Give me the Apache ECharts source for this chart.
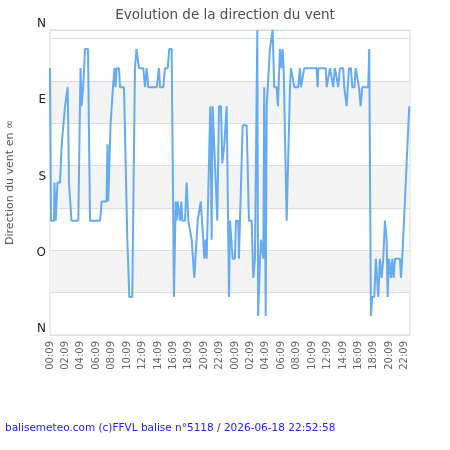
<!DOCTYPE html>
<html><head><meta charset="utf-8">
<script src="https://cdn.jsdelivr.net/npm/echarts@6/dist/echarts.min.js"></script>
<style>html,body{margin:0;padding:0;background:#fff}#c{width:450px;height:450px}</style>
</head><body><div id="c"></div>
<script>
// x tick labels: every 2 hours over two days, starting 00:09
const xTickLabels = ['00:09','02:09','04:09','06:09','08:09','10:09','12:09','14:09','16:09','18:09','20:09','22:09',
                     '00:09','02:09','04:09','06:09','08:09','10:09','12:09','14:09','16:09','18:09','20:09','22:09'];
const yTickValues = [0, 90, 180, 270, 360];
const yTickLabels = ['N', 'O', 'S', 'E', 'N'];
// [hours since first 00:09, direction in degrees]
const windDirection = [
[0,315],[0.13,135],[0.52,135],[0.58,180],[0.74,135],[0.97,180],[1.30,180],[1.52,225],[1.69,225],[1.95,270],[2.08,270],[2.30,292.5],[2.46,180],[2.79,135],[3.67,135],[3.96,315],[4.09,270],[4.31,292.5],[4.54,337.5],[4.93,337.5],[5.19,135],[6.49,135],[6.71,157.5],[7.33,157.5],[7.46,225],[7.56,157.5],[7.69,157.5],[7.85,247.5],[7.98,247.5],[8.17,292.5],[8.37,315],[8.50,292.5],[8.63,315],[8.95,315],[9.08,292.5],[9.60,292.5],[10.03,112.5],[10.12,90],[10.29,45],[10.67,45],[11.02,315],[11.22,337.5],[11.45,337.5],[11.54,315],
[12.10,315],[12.32,292.5],[12.54,315],[12.75,292.5],[13.84,292.5],[14.14,315],[14.27,292.5],[14.70,292.5],[14.92,315],[15.27,315],[15.47,337.5],[15.78,337.5],[16.08,45],[16.30,157.5],[16.43,135],[16.56,157.5],[16.73,157.5],[16.86,135],[17.03,157.5],[17.16,135],[17.51,135],[17.73,180],[17.94,135],[18.09,135],[18.38,112.5],[18.72,67.5],[19.16,135],[19.33,135],[19.55,157.5],[19.68,157.5],[19.88,112.5],[20.01,90],[20.19,112.5],[20.32,90],[20.45,135],[20.62,135],[20.79,270],[20.97,112.5],[21.10,270],[21.27,270],[21.70,135],[21.92,270],[22.18,270],[22.35,202.5],[22.61,225],[22.74,225],[22.92,270],[23.22,45],
[23.35,135],[23.57,135],[23.70,90],[23.99,90],[24.12,135],[24.42,135],[24.51,90],[24.99,247.5],[25.51,247.5],[25.81,135],[26.16,135],[26.37,67.5],[26.59,90],[26.78,90],[26.89,360],[27.00,22.5],[27.24,90],[27.37,112.5],[27.54,112.5],[27.67,90],[27.79,292.5],[27.98,22.5],[28.11,270],[28.31,270],[28.53,337.5],[28.88,360],[29.09,292.5],[29.40,292.5],[29.57,270],[29.70,270],[29.83,337.5],[30.05,315],[30.18,337.5],[30.31,315],[30.70,135],[31.13,292.5],[31.26,315],[31.48,315],[31.69,292.5],[32.20,292.5],[32.43,315],[32.56,292.5],[32.81,292.5],[32.98,315],[34.59,315],[34.72,292.5],[34.82,315],
[35.76,315],[35.89,292.5],[36.12,292.5],[36.32,315],[36.54,315],[36.74,292.5],[36.96,315],[37.19,315],[37.39,292.5],[37.61,315],[38.04,315],[38.17,292.5],[38.48,270],[38.78,315],[39.04,315],[39.21,292.5],[39.49,292.5],[39.65,315],[39.88,315],[40.08,292.5],[40.30,270],[40.51,292.5],[41.28,292.5],[41.41,337.5],[41.50,337.5],[41.63,22.5],[41.80,45],[42.06,45],[42.28,90],[42.58,45],[42.80,90],[43.02,67.5],[43.23,90],[43.45,135],[43.67,112.5],[43.80,45],[43.97,90],[44.23,67.5],[44.40,90],[44.58,67.5],[44.75,90],[45.40,90],[45.53,67.5],[45.69,90],[45.82,90],[46.04,157.5],[46.60,270]
];
const titleText = 'Evolution de la direction du vent';
const yAxisTitle = 'Direction du vent en \u221e';
const footerText = 'balisemeteo.com (c)FFVL balise n\u00b05118 / 2026-06-18 22:52:58';

const T = 'rgba(255,255,255,0)', G = '#f3f3f3';
const chart = echarts.init(document.getElementById('c'), null, {renderer: 'canvas'});
chart.setOption({
  animation: false,
  backgroundColor: '#fff',
  textStyle: {fontFamily: 'DejaVu Sans'},
  title: {
    text: titleText, left: 'center', top: 3,
    textStyle: {fontFamily: 'DejaVu Sans', fontSize: 13.5, fontWeight: 'normal', color: '#4d4d4d'}
  },
  grid: {left: 50, right: 40, top: 30, bottom: 115, show: true, borderColor: '#d8d8d8', borderWidth: 1,
         containLabel: false, outerBoundsMode: 'none'},
  xAxis: {
    type: 'value', min: 0, max: 46.7, interval: 2,
    axisLine: {show: false}, axisTick: {show: false}, splitLine: {show: false},
    axisLabel: {
      rotate: 90, margin: 6, fontSize: 10, color: '#666', fontFamily: 'DejaVu Sans',
      showMaxLabel: false,
      formatter: function (v) {
        const i = Math.round(v / 2);
        if (Math.abs(v - i * 2) > 0.01) return '';
        return xTickLabels[i] || '';
      }
    }
  },
  yAxis: [{
    type: 'value', min: 0, max: 360, interval: 50,
    name: yAxisTitle, nameLocation: 'middle', nameGap: 34,
    nameTextStyle: {fontSize: 11, color: '#555', fontFamily: 'DejaVu Sans'},
    axisLine: {show: false}, axisTick: {show: false}, axisLabel: {show: false},
    splitLine: {show: true, lineStyle: {color: '#dcdcdc', width: 1}},
    splitArea: {show: true, areaStyle: {color: [T, G, T, G, T, G, T, T]}}
  }, {
    type: 'value', min: 0, max: 360, interval: 90, position: 'left',
    axisLine: {show: false}, axisTick: {show: false}, splitLine: {show: false}, splitArea: {show: false},
    axisLabel: {
      margin: 4, fontSize: 12, color: '#222', fontFamily: 'DejaVu Sans', verticalAlign: 'bottom',
      formatter: function (v) {
        const i = yTickValues.indexOf(v);
        return i >= 0 ? yTickLabels[i] : '';
      }
    }
  }],
  graphic: [{
    type: 'text', left: 5, top: 423,
    style: {text: footerText, fontSize: 10.5, fill: '#2020f0', fontFamily: 'DejaVu Sans'}
  }],
  series: [{
    type: 'line', data: windDirection, xAxisIndex: 0, yAxisIndex: 0,
    showSymbol: false, symbol: 'none',
    lineStyle: {color: '#66aaf0', width: 2}
  }]
});
</script>
</body></html>
